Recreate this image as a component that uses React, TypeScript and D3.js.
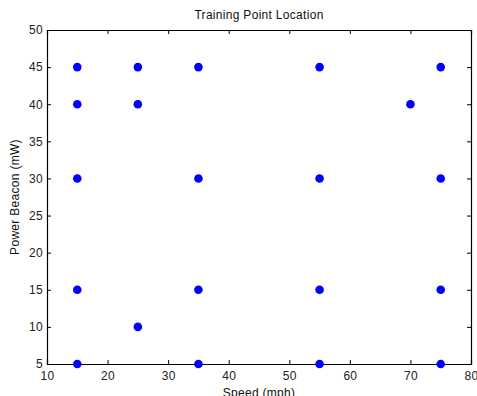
import React, { useRef, useEffect } from "react";
import * as d3 from "d3";

const speeds = [15, 25, 35, 55, 75, 15, 25, 70, 15, 35, 55, 75, 15, 35, 55, 75, 25, 15, 35, 55, 75];
const powers = [45, 45, 45, 45, 45, 40, 40, 40, 30, 30, 30, 30, 15, 15, 15, 15, 10, 5, 5, 5, 5];
const xTicks = [10, 20, 30, 40, 50, 60, 70, 80];
const yTicks = [5, 10, 15, 20, 25, 30, 35, 40, 45, 50];

const App: React.FC = () => {
  const svgRef = useRef<SVGSVGElement>(null);
  const width = 477;
  const height = 396;

  useEffect(() => {
    if (!svgRef.current) return;
    const svg = d3.select(svgRef.current);
    svg.selectAll("*").remove();
    const margin = { top: 30, right: 6, bottom: 32, left: 47 };
    const font = "Liberation Sans, Arial, sans-serif";

    const x = d3.scaleLinear().domain([10, 80]).range([margin.left, width - margin.right]);
    const y = d3.scaleLinear().domain([5, 50]).range([height - margin.bottom, margin.top]);

    // inward ticks on all sides, MATLAB style
    const axes = [
      { axis: d3.axisBottom(x).tickValues(xTicks).tickSize(-4).tickPadding(7), t: `translate(0,${y(5)})`, labels: true },
      { axis: d3.axisTop(x).tickValues(xTicks).tickSize(-4), t: `translate(0,${y(50)})`, labels: false },
      { axis: d3.axisLeft(y).tickValues(yTicks).tickSize(-4).tickPadding(4), t: `translate(${x(10)},0)`, labels: true },
      { axis: d3.axisRight(y).tickValues(yTicks).tickSize(-4), t: `translate(${x(80)},0)`, labels: false },
    ];
    axes.forEach((a) => {
      const g = svg.append("g").attr("transform", a.t).call(a.axis as any);
      g.select(".domain").attr("stroke", "#000").attr("stroke-width", 1.2);
      g.selectAll(".tick line").attr("stroke", "#000");
      g.selectAll("text")
        .attr("font-family", font)
        .attr("font-size", 12)
        .attr("letter-spacing", 0.3)
        .attr("fill", "#222")
        .style("display", a.labels ? null : "none");
    });

    svg
      .selectAll(".pt")
      .data(speeds)
      .enter()
      .append("circle")
      .attr("class", "pt")
      .attr("cx", (d) => x(d))
      .attr("cy", (_d, i) => y(powers[i]))
      .attr("r", 4.3)
      .attr("fill", "#0000ff");

    const label = (txt: string, tx: number, ty: number, rot = 0) =>
      svg
        .append("text")
        .attr("transform", `translate(${tx},${ty}) rotate(${rot})`)
        .attr("text-anchor", "middle")
        .attr("font-family", font)
        .attr("font-size", 12)
        .attr("letter-spacing", 0.3)
        .attr("fill", "#111")
        .text(txt);

    const cx = (x(10) + x(80)) / 2;
    label("Training Point Location", cx, 19);
    label("Speed (mph)", cx, 397);
    label("Power Beacon (mW)", 19, (y(5) + y(50)) / 2, -90);
  }, []);

  return (
    <svg
      ref={svgRef}
      width={width}
      height={height}
      style={{ position: "absolute", left: 0, top: 0, background: "#fff" }}
    ></svg>
  );
};

export default App;
